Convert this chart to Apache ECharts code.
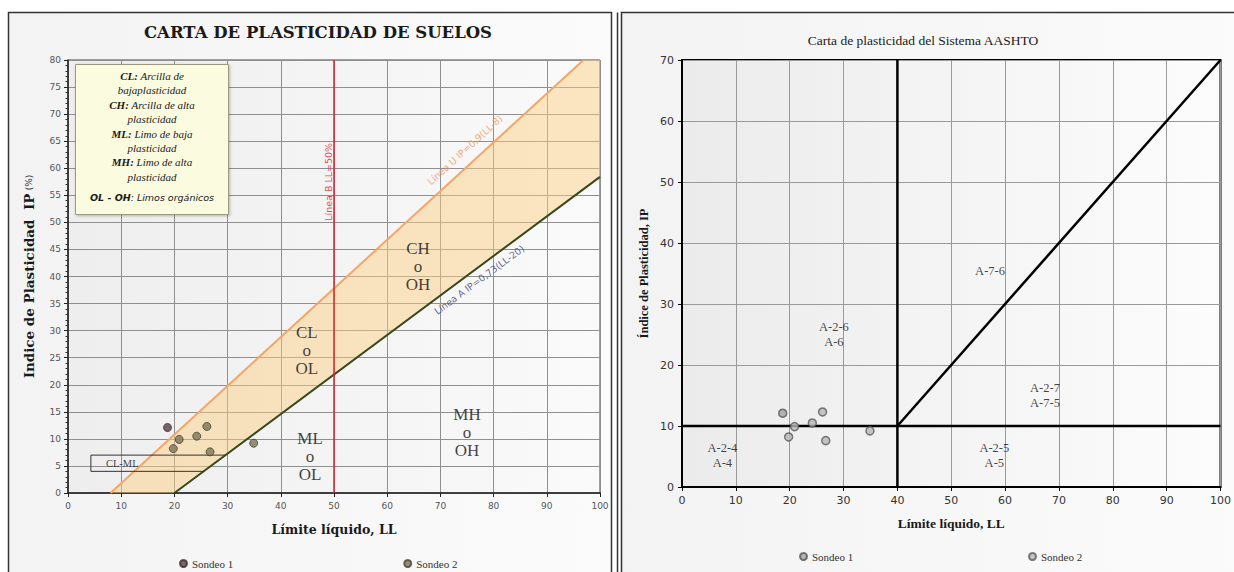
<!DOCTYPE html>
<html><head><meta charset="utf-8">
<script src="https://cdn.jsdelivr.net/npm/echarts@6/dist/echarts.min.js"></script>
<style>html,body{margin:0;padding:0;background:#fff}#c{width:1234px;height:572px}</style>
</head><body><div id="c"></div>
<script>
// ---- Data ----
const sondeo1 = [[18.7, 12.1]];
const sondeo2 = [[19.8, 8.2], [20.9, 9.9], [24.2, 10.5], [26.1, 12.3], [26.7, 7.6], [34.9, 9.2]];

// Left chart (Casagrande) reference lines
const lineU = [[8, 0], [96.9, 80]];          // IP = 0.9(LL-8)
const lineA = [[20, 0], [100, 58.4]];        // IP = 0.73(LL-20)
const lineB = [[50, 0], [50, 80]];           // LL = 50
const bandPolygon = [[8, 0], [20, 0], [100, 58.4], [100, 80], [96.9, 80]];
const clmlTop = [[4.3, 7], [29.6, 7]];
const clmlBottom = [[4.3, 4], [25.5, 4]];
const clmlLeft = [[4.3, 4], [4.3, 7]];

const zoneLabels = [
  { value: [65.8, 41.8], text: 'CH\no\nOH' },
  { value: [44.9, 26.4], text: 'CL\no\nOL' },
  { value: [45.5, 6.7], text: 'ML\no\nOL' },
  { value: [75.0, 11.1], text: 'MH\no\nOH' }
];
const lineLabels = [
  { value: [74.6, 63.4], text: 'Línea U IP=0,9(LL-8)', rot: 42.5, color: '#e8955a' },
  { value: [77.3, 39.4], text: 'Línea A IP=0,73(LL-20)', rot: 36.5, color: '#3d4670' },
  { value: [48.9, 57.5], text: 'Línea B LL=50%', rot: 90, color: '#e0202a' }
];
const clmlLabel = [{ value: [10.2, 5.5], text: 'CL-ML' }];
const legendLines = [
  ['CL:', ' Arcilla de'], ['', 'bajaplasticidad'],
  ['CH:', ' Arcilla de alta'], ['', 'plasticidad'],
  ['ML:', ' Limo de baja'], ['', 'plasticidad'],
  ['MH:', ' Limo de alta'], ['', 'plasticidad']
];

// Right chart (AASHTO)
const aashtoH = [[0, 10], [100, 10]];
const aashtoV = [[40, 0], [40, 70]];
const aashtoD = [[40, 10], [100, 70]];
const aashtoLabels = [
  { value: [7.5, 5.2], text: 'A-2-4\nA-4' },
  { value: [28.2, 25], text: 'A-2-6\nA-6' },
  { value: [57.2, 35.4], text: 'A-7-6' },
  { value: [67.4, 15], text: 'A-2-7\nA-7-5' },
  { value: [58, 5.2], text: 'A-2-5\nA-5' }
];

const serif = '"Liberation Serif", "DejaVu Serif", serif';
const wserif = '"DejaVu Serif", "Liberation Serif", serif';
const sans = '"DejaVu Sans", "Liberation Sans", sans-serif';

const chart = echarts.init(document.getElementById('c'), null, { renderer: 'svg' });

function lineSeries(data, color, width, xi) {
  return { type: 'line', data: data, xAxisIndex: xi, yAxisIndex: xi, showSymbol: false, symbol: 'none',
    lineStyle: { color: color, width: width }, silent: true, z: 3, animation: false };
}
function textSeries(items, xi, font, size, color, lh) {
  return { type: 'scatter', xAxisIndex: xi, yAxisIndex: xi, symbolSize: 0, silent: true, z: 6,
    data: items.map(d => ({ value: d.value, label: { formatter: d.text, rotate: d.rot || 0, color: d.color || color } })),
    label: { show: true, position: 'inside', fontFamily: font, fontSize: size, color: color, lineHeight: lh, align: 'center', verticalAlign: 'middle' } };
}

const legendGraphics = [];
const lx = 152, ly0 = 76, lstep = 14.4;
legendLines.forEach((l, i) => {
  legendGraphics.push({ type: 'text', x: lx, y: ly0 + i * lstep, z: 20,
    style: { text: '{b|' + l[0] + '}{i|' + l[1] + '}', align: 'center', verticalAlign: 'middle',
      rich: { b: { fontFamily: serif, fontStyle: 'italic', fontWeight: 'bold', fontSize: 11, fill: '#1a1a1a' },
              i: { fontFamily: serif, fontStyle: 'italic', fontSize: 11, fill: '#1a1a1a' } } } });
});
legendGraphics.push({ type: 'text', x: lx, y: 197, z: 20,
  style: { text: '{b|OL - OH}{i|: Limos orgánicos}', align: 'center', verticalAlign: 'middle',
    rich: { b: { fontFamily: sans, fontStyle: 'italic', fontWeight: 'bold', fontSize: 9.5, fill: '#1a1a1a' },
            i: { fontFamily: sans, fontStyle: 'italic', fontSize: 9.5, fill: '#1a1a1a' } } } });

const panelFill = () => new echarts.graphic.LinearGradient(0, 0, 1, 0, [{ offset: 0, color: '#f3f3f3' }, { offset: 1, color: '#fbfbfb' }]);

const option = {
  animation: false,
  backgroundColor: '#ffffff',
  graphic: [
    { type: 'rect', shape: { x: 8.5, y: 12.5, width: 603, height: 580 }, z: -10,
      style: { fill: panelFill(), stroke: '#333', lineWidth: 1.5 } },
    { type: 'rect', shape: { x: 621.5, y: 12.5, width: 640, height: 580 }, z: -10,
      style: { fill: panelFill(), stroke: '#333', lineWidth: 1.5 } },
    { type: 'line', shape: { x1: 617.5, y1: 12.5, x2: 617.5, y2: 580 }, z: -9, style: { stroke: '#333', lineWidth: 1.5 } },
    { type: 'text', x: 318, y: 32, z: 10, style: { text: 'CARTA DE PLASTICIDAD DE SUELOS', align: 'center', verticalAlign: 'middle', fontFamily: wserif, fontWeight: 'bold', fontSize: 16.5, fill: '#1a1a1a' } },
    { type: 'text', x: 923, y: 40, z: 10, style: { text: 'Carta de plasticidad del Sistema AASHTO', align: 'center', verticalAlign: 'middle', fontFamily: serif, fontSize: 13.5, fill: '#1a1a1a' } },
    { type: 'rect', shape: { x: 75.5, y: 64.5, width: 153, height: 150 }, z: 15,
      style: { fill: '#fbfbe0', stroke: '#9a9a80', lineWidth: 1, shadowBlur: 3, shadowColor: 'rgba(0,0,0,0.25)', shadowOffsetX: 1, shadowOffsetY: 1 } }
  ].concat(legendGraphics),
  grid: [
    { left: 68, top: 60, width: 532, height: 433, show: true, borderColor: '#444', borderWidth: 1,
      backgroundColor: new echarts.graphic.LinearGradient(0, 0, 1, 0, [{ offset: 0, color: '#eeeeee' }, { offset: 1, color: '#fafafa' }]) },
    { left: 682, top: 60, width: 546, height: 427, show: true, borderColor: '#000', borderWidth: 2,
      backgroundColor: new echarts.graphic.LinearGradient(0, 0, 1, 0, [{ offset: 0, color: '#ebebeb' }, { offset: 0.5, color: '#f4f4f4' }, { offset: 1, color: '#fcfcfc' }]) }
  ],
  xAxis: [
    { type: 'value', gridIndex: 0, min: 0, max: 100, interval: 10,
      name: 'Límite líquido, LL', nameLocation: 'middle', nameGap: 30,
      nameTextStyle: { fontFamily: wserif, fontWeight: 'bold', fontSize: 12.5, color: '#1a1a1a' },
      axisLine: { lineStyle: { color: '#222', width: 1.5 } }, axisTick: { show: true, length: 4, lineStyle: { color: '#222' } },
      axisLabel: { fontFamily: sans, fontSize: 9, color: '#555', margin: 8 },
      splitLine: { show: true, lineStyle: { color: '#8f8f8f', width: 1 } } },
    { type: 'value', gridIndex: 1, min: 0, max: 100, interval: 10,
      name: 'Límite líquido, LL', nameLocation: 'middle', nameGap: 29,
      nameTextStyle: { fontFamily: serif, fontWeight: 'bold', fontSize: 13.5, color: '#1a1a1a' },
      axisLine: { lineStyle: { color: '#000', width: 2 } }, axisTick: { show: true, length: 4, lineStyle: { color: '#000' } },
      axisLabel: { fontFamily: sans, fontSize: 11, color: '#333', margin: 8 },
      splitLine: { show: true, lineStyle: { color: '#9a9a9a', width: 1 } } }
  ],
  yAxis: [
    { type: 'value', gridIndex: 0, min: 0, max: 80, interval: 5,
      name: '{a|Indice de Plasticidad  IP} {b|(%)}', nameLocation: 'middle', nameGap: 32,
      nameTextStyle: { rich: { a: { fontFamily: wserif, fontWeight: 'bold', fontSize: 13.5, color: '#1a1a1a' },
                               b: { fontFamily: wserif, fontSize: 9, color: '#1a1a1a' } } },
      axisLine: { show: true, lineStyle: { color: '#222', width: 1.5 } },
      axisTick: { show: true, length: 4, lineStyle: { color: '#222' } },
      minorTick: { show: true, splitNumber: 5, length: 2.5, lineStyle: { color: '#333' } },
      axisLabel: { fontFamily: sans, fontSize: 9, color: '#555', margin: 7 },
      splitLine: { show: true, lineStyle: { color: '#8f8f8f', width: 1 } } },
    { type: 'value', gridIndex: 1, min: 0, max: 70, interval: 10,
      name: 'Índice de Plasticidad, IP', nameLocation: 'middle', nameGap: 32,
      nameTextStyle: { fontFamily: serif, fontWeight: 'bold', fontSize: 12.5, color: '#1a1a1a' },
      axisLine: { show: true, lineStyle: { color: '#000', width: 2 } },
      axisTick: { show: true, length: 4, lineStyle: { color: '#000' } },
      axisLabel: { fontFamily: sans, fontSize: 11, color: '#333', margin: 8 },
      splitLine: { show: true, lineStyle: { color: '#9a9a9a', width: 1 } } }
  ],
  legend: [
    { data: ['Sondeo 1', 'Sondeo 2'], left: 174, top: 553, itemGap: 170, icon: 'circle', itemWidth: 7, itemHeight: 7,
      textStyle: { fontFamily: serif, fontSize: 11, color: '#333' }, selectedMode: false },
    { data: ['Sondeo 1 ', 'Sondeo 2 '], left: 794, top: 546, itemGap: 172, icon: 'circle', itemWidth: 7, itemHeight: 7,
      textStyle: { fontFamily: serif, fontSize: 11, color: '#333' }, selectedMode: false }
  ],
  series: [
    { type: 'custom', name: 'band', xAxisIndex: 0, yAxisIndex: 0, silent: true, z: 1, clip: true,
      data: [[0, 0]],
      renderItem: function (params, api) {
        return { type: 'polygon', shape: { points: bandPolygon.map(p => api.coord(p)) },
          style: { fill: 'rgba(250, 206, 130, 0.48)', stroke: 'none' } };
      } },
    lineSeries(lineU, '#f2a66a', 2, 0),
    lineSeries(lineA, '#37481a', 2, 0),
    lineSeries(lineB, '#e0202a', 1.5, 0),
    lineSeries(clmlTop, '#333', 1, 0),
    lineSeries(clmlBottom, '#333', 1, 0),
    lineSeries(clmlLeft, '#333', 1, 0),
    textSeries(zoneLabels, 0, serif, 17, '#111', 18),
    textSeries(lineLabels, 0, sans, 9.5, '#333', 11),
    textSeries(clmlLabel, 0, serif, 10.5, '#111', 11),
    { type: 'scatter', name: 'Sondeo 1', xAxisIndex: 0, yAxisIndex: 0, data: sondeo1, symbolSize: 8, z: 8,
      itemStyle: { color: '#5e3f46', borderColor: '#3a2a2a', borderWidth: 1 } },
    { type: 'scatter', name: 'Sondeo 2', xAxisIndex: 0, yAxisIndex: 0, data: sondeo2, symbolSize: 8, z: 8,
      itemStyle: { color: '#7a7656', borderColor: '#45432e', borderWidth: 1 } },

    lineSeries(aashtoH, '#000', 2.5, 1),
    lineSeries(aashtoV, '#000', 2.5, 1),
    lineSeries(aashtoD, '#000', 2.5, 1),
    textSeries(aashtoLabels, 1, serif, 12.5, '#111', 15),
    { type: 'scatter', name: 'Sondeo 1 ', xAxisIndex: 1, yAxisIndex: 1, data: sondeo1, symbolSize: 8, z: 8,
      itemStyle: { color: '#a4a4a4', borderColor: '#555', borderWidth: 1.5 } },
    { type: 'scatter', name: 'Sondeo 2 ', xAxisIndex: 1, yAxisIndex: 1, data: sondeo2, symbolSize: 8, z: 8,
      itemStyle: { color: '#b8b8b8', borderColor: '#5a5a5a', borderWidth: 1.5 } }
  ]
};
chart.setOption(option);
</script>
</body></html>
